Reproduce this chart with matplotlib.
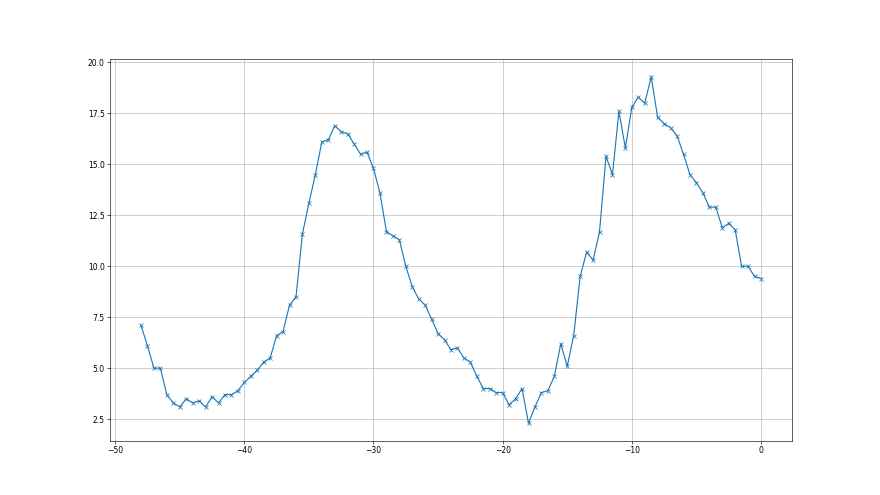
import numpy as np
import matplotlib
matplotlib.use("Agg")
import matplotlib.pyplot as plt

x_start = -48.0
x_step = 0.5
values = [
    7.1, 6.1, 5.0, 5.0, 3.7, 3.3, 3.1, 3.5, 3.3, 3.4,
    3.1, 3.6, 3.3, 3.7, 3.7, 3.9, 4.3, 4.6, 4.9, 5.3,
    5.5, 6.6, 6.8, 8.1, 8.5, 11.6, 13.1, 14.5, 16.1, 16.2,
    16.9, 16.6, 16.5, 16.0, 15.5, 15.6, 14.8, 13.6, 11.7, 11.5,
    11.3, 10.0, 9.0, 8.4, 8.1, 7.4, 6.7, 6.4, 5.9, 6.0,
    5.5, 5.3, 4.6, 4.0, 4.0, 3.8, 3.8, 3.2, 3.5, 4.0,
    2.3, 3.1, 3.8, 3.9, 4.6, 6.2, 5.1, 6.6, 9.5, 10.7,
    10.3, 11.7, 15.4, 14.5, 17.6, 15.8, 17.8, 18.3, 18.0, 19.3,
    17.3, 17.0, 16.8, 16.4, 15.5, 14.5, 14.1, 13.6, 12.9, 12.9,
    11.9, 12.1, 11.8, 10.0, 10.0, 9.5, 9.4,
]
x = x_start + x_step * np.arange(len(values))

fig = plt.figure(figsize=(16, 9), dpi=55)
ax = fig.add_subplot(111)
ax.plot(x, values, marker='x', color='#1f77b4')
ax.grid(True)
fig.savefig("out.png", dpi=55)
